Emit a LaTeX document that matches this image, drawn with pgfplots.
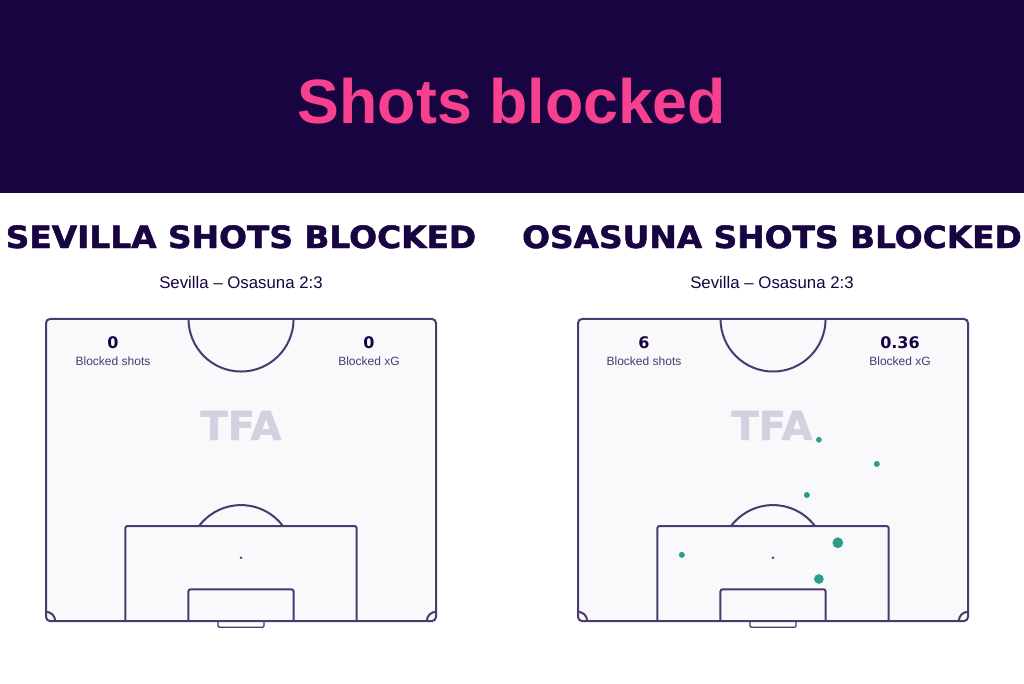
\documentclass[border=0pt]{standalone}
\usepackage{pgfplots}
\usepackage{pgfplotstable}
\pgfplotsset{compat=1.18}
\usepackage{fontspec}
\setmainfont{Liberation Sans}
\newfontfamily\headfont{DejaVu Sans Bold}[FakeBold=1.6]
\newfontfamily\markfont{DejaVu Sans Bold}[FakeBold=1.2]
\newfontfamily\numfont{DejaVu Sans Bold}

\definecolor{navy}{HTML}{170440}
\definecolor{hotpink}{HTML}{F7418F}
\definecolor{pline}{HTML}{4A3A6E}
\definecolor{pfill}{HTML}{F9F9FB}
\definecolor{shot}{HTML}{2A9D8F}
\definecolor{wmark}{HTML}{D3D0DF}

% blocked Osasuna shots, pitch metres (x across, y from goal line), xG, dot radius (pt)
\pgfplotstableread{
x    y    xg   r
42.0 31.5 0.03 1.9
52.1 27.3 0.04 2.0
39.9 21.9 0.03 2.0
45.3 13.6 0.11 3.8
18.1 11.5 0.04 2.0
42.0 7.3  0.11 3.4
}\osasunashots

\pgfplotsset{pitch/.style={
    scale only axis, width=292.5pt, height=226.5pt,
    xmin=0, xmax=68, ymin=0, ymax=52.5,
    hide axis, clip=false, anchor=south west}}

\newcommand\pitchlines{%
  \draw[pline, line width=1.5pt, fill=pfill, rounded corners=3pt] (axis cs:0,0) rectangle (axis cs:68,52.5);
  \draw[pline, line width=1.5pt] (axis cs:24.85,52.5) arc[start angle=180, end angle=360, radius=39.4pt];
  \draw[pline, line width=1.5pt, rounded corners=1.5pt] (axis cs:13.84,0) -- (axis cs:13.84,16.5) -- (axis cs:54.16,16.5) -- (axis cs:54.16,0);
  \draw[pline, line width=1.5pt] (axis cs:41.32,16.5) arc[start angle=36.9, end angle=143.1, radius=39.4pt];
  \draw[pline, line width=1.5pt, rounded corners=1.5pt] (axis cs:24.84,0) -- (axis cs:24.84,5.5) -- (axis cs:43.16,5.5) -- (axis cs:43.16,0);
  \draw[pline, line width=1pt, rounded corners=1pt] (axis cs:30.0,0) -- (axis cs:30.0,-1.1) -- (axis cs:38.0,-1.1) -- (axis cs:38.0,0);
  \fill[pline] (axis cs:34,11) circle[radius=1pt];
  \draw[pline, line width=1.5pt] (axis cs:1.6,0) arc[start angle=0, end angle=90, radius=6.9pt];
  \draw[pline, line width=1.5pt] (axis cs:68,1.6) arc[start angle=90, end angle=180, radius=6.9pt];
}

\begin{document}
\begin{tikzpicture}[x=0.75pt, y=0.75pt]
\fill[white] (0,0) rectangle (1024,683);
\fill[navy] (0,490) rectangle (1024,683);
\node[anchor=base, text=hotpink, font=\bfseries\fontsize{47}{56}\selectfont] at (512,559) {Shots blocked};

% Sevilla
\begin{axis}[pitch, at={(34.5pt,46.5pt)}]
\pitchlines
\end{axis}

% Osasuna
\begin{axis}[pitch, at={(433.5pt,46.5pt)}]
\pitchlines
\addplot[scatter, only marks, mark=*,
    scatter/use mapped color={draw=shot, fill=shot},
    visualization depends on={\thisrow{r} \as \dotr},
    scatter/@pre marker code/.append style={/tikz/mark size=\dotr}]
  table[x=x, y=y, meta=xg] {\osasunashots};
\end{axis}

\foreach \cx/\team/\nshots/\nxg in {241/SEVILLA/0/0, 772/OSASUNA/6/0.36}{
  \node[anchor=base, text=navy, font=\headfont\fontsize{23}{27}\selectfont] at (\cx,435) {\scalebox{1.07}[1]{\team{} SHOTS BLOCKED}};
  \node[anchor=base, text=navy, font=\fontsize{12.6}{15}\selectfont] at (\cx,395) {Sevilla -- Osasuna 2:3};
  \node[anchor=base, text=wmark, font=\markfont\fontsize{30}{36}\selectfont] at (\cx,243) {TFA};
  \node[anchor=base, text=navy, font=\numfont\fontsize{12}{14}\selectfont] at (\cx-128,335) {\nshots};
  \node[anchor=base, text=pline, font=\fontsize{9}{11}\selectfont] at (\cx-128,317.5) {Blocked shots};
  \node[anchor=base, text=navy, font=\numfont\fontsize{12}{14}\selectfont] at (\cx+128,335) {\nxg};
  \node[anchor=base, text=pline, font=\fontsize{9}{11}\selectfont] at (\cx+128,317.5) {Blocked xG};
}
\pgfresetboundingbox
\useasboundingbox (0,0) rectangle (1024,683);
\end{tikzpicture}
\end{document}
